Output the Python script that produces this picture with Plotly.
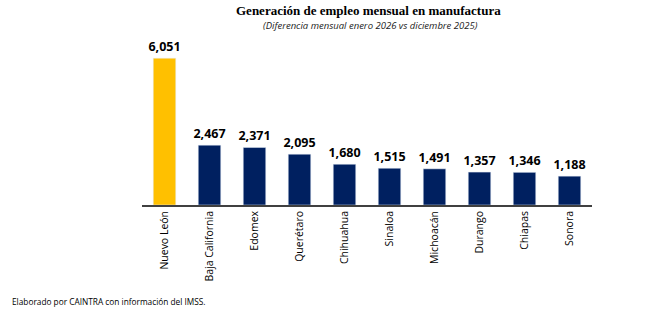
import plotly.graph_objects as go

estados = ["Nuevo León", "Baja California", "Edomex", "Querétaro", "Chihuahua",
           "Sinaloa", "Michoacán", "Durango", "Chiapas", "Sonora"]
empleos = [6051, 2467, 2371, 2095, 1680, 1515, 1491, 1357, 1346, 1188]
colores = ["#FFC000"] + ["#002060"] * 9

fig = go.Figure(go.Bar(
    x=estados, y=empleos, marker_color=colores, width=0.5,
    text=[f"{v:,}" for v in empleos], textposition="outside",
    textfont=dict(family="Open Sans", size=12.5, color="#000000"),
    texttemplate="<b>%{text}</b>", cliponaxis=False, constraintext="none",
))

fig.update_layout(
    width=645, height=329, paper_bgcolor="white", plot_bgcolor="white",
    margin=dict(l=142, r=53, t=40, b=124),
    showlegend=False,
    xaxis=dict(showline=True, linecolor="#404040", linewidth=1.5, ticks="",
               tickangle=-90, tickfont=dict(family="Open Sans", size=10.5, color="#000000"),
               range=[-0.5, 9.5]),
    yaxis=dict(visible=False, range=[0, 6800], showgrid=False),
)
pw, ph = 645 - 142 - 53, 329 - 40 - 124

def ann(text, px, py, font, xanchor):
    return dict(text=text, showarrow=False, xref="paper", yref="paper",
                x=(px - 142) / pw, y=(329 - 124 - py) / ph, yanchor="middle",
                xanchor=xanchor, font=font)

fig.update_layout(annotations=[
    ann("<b>Generación de empleo mensual en manufactura</b>", 368, 10.5,
        dict(family="Liberation Serif", size=13, color="#000000"), "center"),
    ann("<i>(Diferencia mensual enero 2026 vs diciembre 2025)</i>", 370, 25.5,
        dict(family="Open Sans", size=9.5, color="#222222"), "center"),
    ann("Elaborado por CAINTRA con información del IMSS.", 10, 301,
        dict(family="Open Sans", size=8.3, color="#000000"), "left"),
])

fig.write_html("out.html")
